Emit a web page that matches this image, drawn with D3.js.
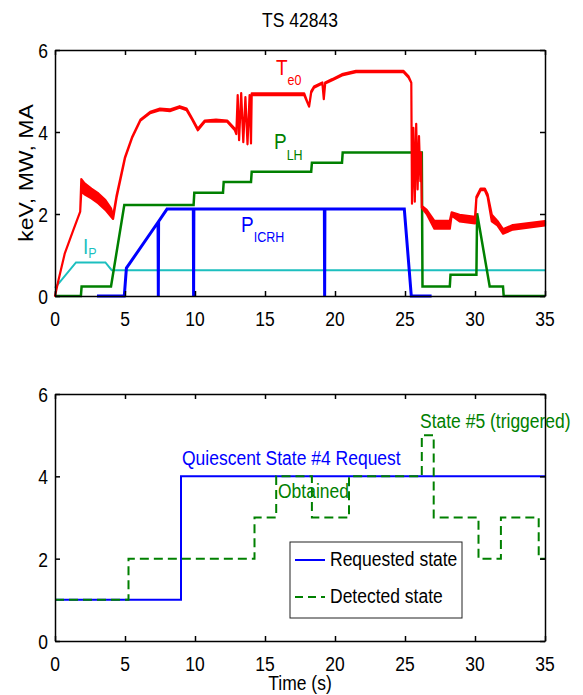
<!DOCTYPE html>
<html>
<head>
<meta charset="utf-8">
<script src="https://cdn.jsdelivr.net/npm/d3@7"></script>
<style>
  body { margin: 0; background: #fff; }
  text { font-family: "Liberation Sans", Arial, sans-serif; }
</style>
</head>
<body>
<div id="chart"></div>
<script>
// Te0 (keV): noisy trace kept as a low/high envelope
var teTime = [0, 0.25, 0.7, 1.3, 1.8, 1.88, 2.1, 2.6, 3.1, 3.6, 4.0, 4.15, 4.4, 5.0, 5.5, 6.1, 6.8, 7.5, 8.2, 8.9,
              9.4, 9.8, 10.2, 10.7, 11.5, 12.3, 12.85, 12.95, 13.05, 13.15, 13.3, 13.45, 13.6, 13.75, 13.9, 14.0,
              14.05, 17.8, 18.15, 18.3, 18.5, 19.1, 19.2, 19.3, 19.8, 20.5, 21.5, 24.9, 25.25, 25.45, 25.5, 25.6,
              25.7, 25.8, 25.9, 26.0, 26.1, 26.15, 26.2, 26.55, 27.1, 28.2, 28.33, 28.9, 30.0, 30.1, 30.4, 30.7,
              30.9, 31.2, 31.6, 32.0, 32.7, 35];
var teLow  = [0, 0.39, 1.04, 1.6, 2.06, 2.55, 2.48, 2.38, 2.26, 2.1, 1.94, 1.88, 2.4, 3.36, 3.85, 4.28, 4.46, 4.53, 4.51, 4.59,
              4.53, 4.3, 4.04, 4.25, 4.26, 4.25, 4.04, 3.95, 4.9, 3.8, 4.95, 3.75, 4.85, 3.7, 4.9, 3.72,
              4.9, 4.9, 4.62, 4.96, 5.08, 5.18, 4.8, 5.18, 5.26, 5.38, 5.46, 5.46, 5.33, 5.2, 2.25, 4.1,
              2.3, 4.2, 2.6, 3.9, 2.8, 3.5, 2.15, 2.0, 1.64, 1.64, 1.96, 1.82, 1.77, 2.38, 2.58, 2.58,
              2.42, 1.82, 1.72, 1.52, 1.62, 1.72];
var teHigh = [0, 0.39, 1.04, 1.6, 2.06, 2.85, 2.75, 2.62, 2.5, 2.34, 2.14, 1.95, 2.45, 3.39, 3.87, 4.3, 4.49, 4.57, 4.55, 4.63,
              4.57, 4.33, 4.08, 4.28, 4.3, 4.28, 4.08, 3.95, 4.9, 3.8, 4.95, 3.75, 4.85, 3.7, 4.9, 3.72,
              4.94, 4.94, 4.62, 4.99, 5.11, 5.21, 4.8, 5.21, 5.29, 5.41, 5.49, 5.49, 5.36, 5.2, 2.25, 4.1,
              2.3, 4.2, 2.6, 3.9, 2.8, 3.5, 2.2, 2.1, 1.83, 1.83, 2.04, 1.98, 1.93, 2.42, 2.62, 2.62,
              2.48, 1.98, 1.83, 1.63, 1.73, 1.83];

// P_LH (MW)
var lhTime = [0, 1.85, 1.9, 4.0, 4.95, 9.9, 9.95, 12.0, 12.05, 14.0, 14.05, 18.3, 18.35, 20.5, 20.55, 26.2,
              26.25, 28.2, 28.25, 30.1, 30.15, 31.05, 32.0, 32.05, 35];
var lhValue = [0, 0, 0.23, 0.23, 2.22, 2.22, 2.52, 2.52, 2.78, 2.78, 3.03, 3.03, 3.25, 3.25, 3.5, 3.5,
               0.23, 0.23, 0.52, 0.52, 2.02, 0.23, 0.23, 0, 0];

// P_ICRH (MW), with the three drop-outs
var icTime = [3.0, 4.95, 5.1, 7.36, 7.38, 7.4, 8.0, 9.88, 9.9, 9.92, 19.24, 19.26, 19.28, 24.95, 25.45, 26.9];
var icValue = [0, 0, 0.68, 1.8, 0, 1.82, 2.12, 2.12, 0, 2.12, 2.12, 0, 2.12, 2.12, 0, 0];

// I_P (MA)
var ipTime = [0, 1.5, 3.6, 4.05, 35];
var ipValue = [0.2, 0.82, 0.82, 0.63, 0.63];

// states (bottom panel), step-after
var reqTime = [0, 9, 35];
var reqState = [1, 4, 4];
var detTime = [0, 5.25, 14.25, 15.8, 18.35, 21.0, 26.2, 27.05, 30.25, 31.85, 34.55, 35];
var detState = [1, 2, 3, 4, 3, 4, 5, 3, 2, 3, 2, 2];

var xTicks = [0, 5, 10, 15, 20, 25, 30, 35];
var yTicks = [0, 2, 4, 6];

var W = 583, H = 695, SY = 1.2;
var FS = 17.5;

var svg = d3.select('#chart').append('svg')
  .attr('width', W).attr('height', H);

var x = d3.scaleLinear().domain([0, 35]).range([55, 545]);
var yTop = d3.scaleLinear().domain([0, 6]).range([296, 50]);
var yBot = d3.scaleLinear().domain([0, 6]).range([641, 394]);

// text with the tall look of the original
function label(g, px, py, txt, color, anchor, size) {
  return g.append('text')
    .attr('transform', 'translate(' + px + ',' + py + ') scale(1,' + SY + ')')
    .attr('text-anchor', anchor || 'start')
    .style('font-size', (size || FS) + 'px')
    .style('fill', color || '#000')
    .text(txt);
}

function subLabel(g, px, py, main, sub, color, drop) {
  var t = g.append('text')
    .attr('transform', 'translate(' + px + ',' + py + ') scale(1,' + SY + ')')
    .style('fill', color);
  t.append('tspan').style('font-size', '19px').text(main);
  t.append('tspan').style('font-size', '12.5px').attr('dy', drop).text(sub);
}

function frame(y) {
  var g = svg.append('g');
  var y0 = y.range()[0], y1 = y.range()[1];
  g.append('g').attr('transform', 'translate(0,' + y0 + ')')
    .call(d3.axisBottom(x).tickValues(xTicks).tickSize(-5).tickSizeOuter(0).tickFormat(''));
  g.append('g').attr('transform', 'translate(0,' + y1 + ')')
    .call(d3.axisTop(x).tickValues(xTicks).tickSize(-5).tickSizeOuter(0).tickFormat(''));
  g.append('g').attr('transform', 'translate(' + x.range()[0] + ',0)')
    .call(d3.axisLeft(y).tickValues(yTicks).tickSize(-5).tickSizeOuter(0).tickFormat(''));
  g.append('g').attr('transform', 'translate(' + x.range()[1] + ',0)')
    .call(d3.axisRight(y).tickValues(yTicks).tickSize(-5).tickSizeOuter(0).tickFormat(''));
  g.selectAll('path, line').style('stroke', '#000').style('stroke-width', 1.5);

  xTicks.forEach(function(t) {
    label(svg, x(t), y0 + 30, String(t), '#000', 'middle');
  });
  yTicks.forEach(function(v) {
    label(svg, 48, y(v) + 8, String(v), '#000', 'end');
  });
}

// ---- top panel ----
var idx = function(arr) { return d3.range(arr.length); };

var ipLine = d3.line().x(function(i) { return x(ipTime[i]); }).y(function(i) { return yTop(ipValue[i]); });
var icLine = d3.line().x(function(i) { return x(icTime[i]); }).y(function(i) { return yTop(icValue[i]); });
var lhLine = d3.line().x(function(i) { return x(lhTime[i]); }).y(function(i) { return yTop(lhValue[i]); });
var teArea = d3.area()
  .x(function(i) { return x(teTime[i]); })
  .y0(function(i) { return yTop(teLow[i]); })
  .y1(function(i) { return yTop(teHigh[i]); });

var plot = svg.append('g');
plot.append('path').datum(idx(ipTime)).attr('d', ipLine)
  .style('fill', 'none').style('stroke', '#1cbfbf').style('stroke-width', 2);
plot.append('path').datum(idx(icTime)).attr('d', icLine)
  .style('fill', 'none').style('stroke', '#0000ff').style('stroke-width', 3);
plot.append('path').datum(idx(lhTime)).attr('d', lhLine)
  .style('fill', 'none').style('stroke', '#008000').style('stroke-width', 2.5);
plot.append('path').datum(idx(teTime)).attr('d', teArea)
  .style('fill', '#ff0000').style('stroke', '#ff0000').style('stroke-width', 2.2)
  .style('stroke-linejoin', 'round');

frame(yTop);

label(svg, 300, 27, 'TS 42843', '#000', 'middle');
svg.append('text')
  .attr('transform', 'translate(33,' + ((yTop(0) + yTop(6)) / 2) + ') rotate(-90) scale(1.1,1)')
  .attr('text-anchor', 'middle')
  .style('font-size', '21px')
  .text('keV, MW, MA');

subLabel(svg, 276, 75, 'T', 'e0', '#ff0000', 8);
subLabel(svg, 274, 149, 'P', 'LH', '#008000', 9);
subLabel(svg, 241, 232, 'P', 'ICRH', '#0000ff', 8);
subLabel(svg, 83, 254, 'I', 'P', '#1cbfbf', 3);

// ---- bottom panel ----
var reqLine = d3.line().curve(d3.curveStepAfter)
  .x(function(i) { return x(reqTime[i]); }).y(function(i) { return yBot(reqState[i]); });
var detLine = d3.line().curve(d3.curveStepAfter)
  .x(function(i) { return x(detTime[i]); }).y(function(i) { return yBot(detState[i]); });

svg.append('path').datum(idx(reqTime)).attr('d', reqLine)
  .style('fill', 'none').style('stroke', '#0000ff').style('stroke-width', 2);
svg.append('path').datum(idx(detTime)).attr('d', detLine)
  .style('fill', 'none').style('stroke', '#008000').style('stroke-width', 2)
  .style('stroke-dasharray', '9,5');

frame(yBot);

label(svg, 182, 465, 'Quiescent State #4 Request', '#0000ff');
label(svg, 278, 498, 'Obtained', '#008000');
label(svg, 420, 428, 'State #5 (triggered)', '#008000');

// legend
var lg = svg.append('g');
lg.append('rect').attr('x', 290).attr('y', 542).attr('width', 172).attr('height', 76)
  .style('fill', '#fff').style('stroke', '#222').style('stroke-width', 1);
lg.append('line').attr('x1', 295).attr('x2', 325).attr('y1', 560).attr('y2', 560)
  .style('stroke', '#0000ff').style('stroke-width', 2);
lg.append('line').attr('x1', 295).attr('x2', 325).attr('y1', 597).attr('y2', 597)
  .style('stroke', '#008000').style('stroke-width', 2).style('stroke-dasharray', '8,5');
label(lg, 330, 566, 'Requested state');
label(lg, 330, 603, 'Detected state');

label(svg, 300, 690, 'Time (s)', '#000', 'middle');
</script>
</body>
</html>
